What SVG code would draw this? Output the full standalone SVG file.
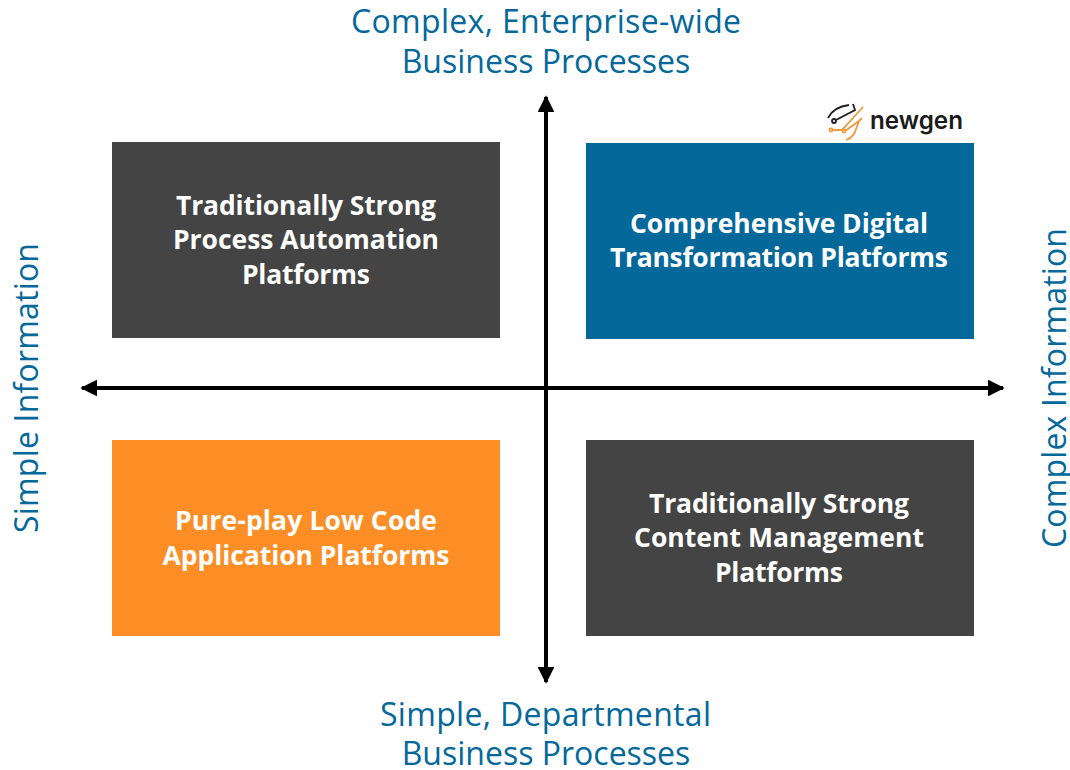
<svg xmlns="http://www.w3.org/2000/svg" width="1070" height="770" viewBox="0 0 1070 770">
<style>
.axis{font-family:"Open Sans","Liberation Sans",sans-serif;font-size:32px;fill:#04689b;text-anchor:middle}
.box{font-family:"Open Sans","Liberation Sans",sans-serif;font-size:26.5px;font-weight:700;fill:#fff;text-anchor:middle}
.ax{stroke:#000;stroke-width:4;fill:none;marker-start:url(#a);marker-end:url(#a)}
.lb{fill:none;stroke:#1f1f1f;stroke-width:1.8}
.lo{fill:none;stroke:#ee9a3e;stroke-width:1.8}
</style>
<defs><marker id="a" viewBox="0 0 10 10" refX="9" refY="5" markerWidth="4.2" markerHeight="4.2" orient="auto-start-reverse"><path d="M0 0L10 5L0 10z" fill="#000"/></marker></defs>
<rect width="1070" height="770" fill="#fff"/>
<g id="connectors"><path class="ax" d="M82 388H1003"/><path class="ax" d="M546 97V682"/></g>
<g id="q1"><rect x="112" y="142" width="388" height="196" fill="#444"/><text class="box" x="306" y="215" textLength="260">Traditionally Strong</text><text class="box" x="306" y="249" textLength="266">Process Automation</text><text class="box" x="306" y="284" textLength="128">Platforms</text></g>
<g id="q2"><rect x="586" y="143" width="388" height="196" fill="#04689b"/><text class="box" x="779" y="233" textLength="298">Comprehensive Digital</text><text class="box" x="779" y="267" textLength="338">Transformation Platforms</text></g>
<g id="q3"><rect x="112" y="440" width="388" height="196" fill="#fc8e25"/><text class="box" x="306" y="530" textLength="262">Pure-play Low Code</text><text class="box" x="306" y="565" textLength="287">Application Platforms</text></g>
<g id="q4"><rect x="586" y="440" width="388" height="196" fill="#444"/><text class="box" x="779" y="513" textLength="260">Traditionally Strong</text><text class="box" x="779" y="547" textLength="290">Content Management</text><text class="box" x="779" y="582" textLength="128">Platforms</text></g>
<g id="labels">
<text class="axis" x="546" y="33" textLength="390">Complex, Enterprise-wide</text><text class="axis" x="546" y="73">Business Processes</text>
<text class="axis" x="545.5" y="726" textLength="331">Simple, Departmental</text><text class="axis" x="546" y="765">Business Processes</text>
<text class="axis" transform="translate(38 388) rotate(-90)" textLength="290">Simple Information</text>
<text class="axis" transform="translate(1066 388) rotate(-90)" textLength="320">Complex Information</text>
</g>
<g id="logo">
<path class="lb" d="M828 118C832 110 840 106 849 105M836 120L855 110L853 104"/>
<circle class="lb" cx="834" cy="121" r="2"/>
<path class="lo" d="M833 130H842L863 107M845 131L859 121L855 132Q852 138 846 140M859 121L862 118"/>
<circle class="lo" cx="831" cy="130" r="1.6"/><circle class="lo" cx="844" cy="131" r="1.6"/>
<text x="870" y="129" font-family="Inter,'Liberation Sans',sans-serif" font-size="24.5" font-weight="600" fill="#1a1a1a" textLength="93" lengthAdjust="spacingAndGlyphs">newgen</text></g>
</svg>
